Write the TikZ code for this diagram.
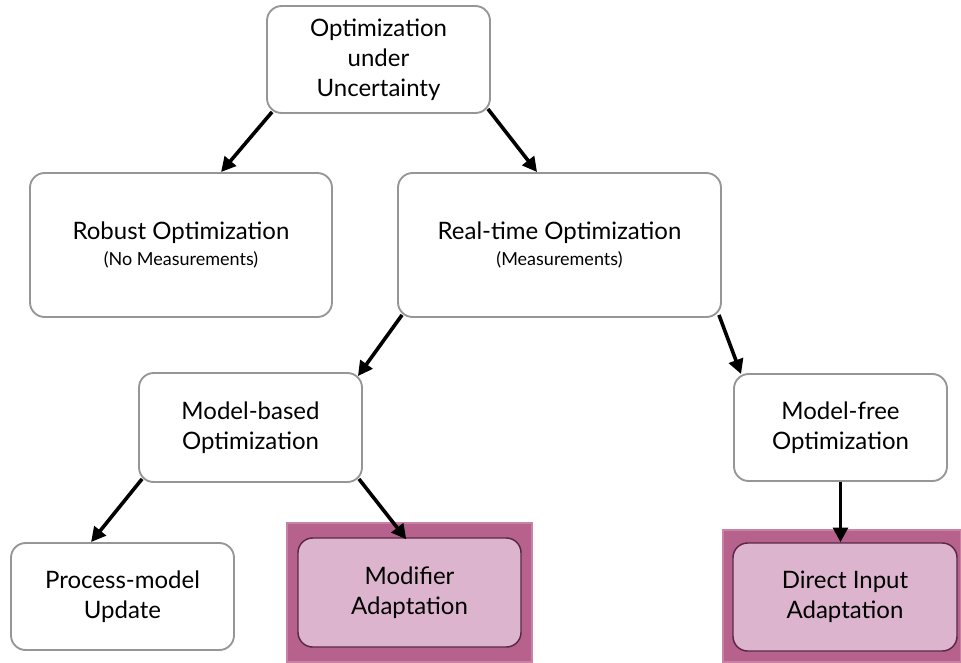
\documentclass[tikz,border=0pt]{standalone}
\usepackage{fontspec}
\setmainfont{Lato}
\usetikzlibrary{calc,arrows.meta}
\definecolor{boxgray}{RGB}{150,150,150}
\definecolor{outerpurple}{RGB}{182,98,140}
\definecolor{outeredge}{RGB}{200,130,165}
\definecolor{innerpink}{RGB}{220,180,205}
\definecolor{inneredge}{RGB}{90,40,70}
\tikzset{
  x=0.75pt, y=-0.75pt,
  box/.style={draw=boxgray, line width=1.4pt, rounded corners=11pt, fill=white, align=center, inner sep=0pt, font=\fontsize{18}{22.5}\selectfont},
  hibox/.style={draw=inneredge, line width=1.1pt, rounded corners=11pt, fill=innerpink, align=center, inner sep=0pt, font=\fontsize{18}{22.5}\selectfont},
  outerbox/.style={draw=outeredge, line width=0.8pt, fill=outerpurple, inner sep=0pt},
  arr/.style={line width=2.7pt, -{Triangle[length=11pt,width=11pt]}}
}
\newcommand{\subtxt}[1]{{\fontsize{13.5}{16}\selectfont #1}}
\begin{document}
\begin{tikzpicture}
\useasboundingbox (0,0) rectangle (961,662);
\node[box, minimum width=223*0.75pt, minimum height=107*0.75pt] (top) at (378.5,59.5) {Optimization\\under\\Uncertainty};
\node[box, minimum width=302*0.75pt, minimum height=144*0.75pt] (robust) at (181,245) {Robust Optimization\\[-3pt]\subtxt{(No Measurements)}};
\node[box, minimum width=323*0.75pt, minimum height=144*0.75pt] (rt) at (559.5,245) {Real-time Optimization\\[-3pt]\subtxt{(Measurements)}};
\node[box, minimum width=223*0.75pt, minimum height=109*0.75pt] (mb) at (250.5,427.5) {Model-based\\Optimization};
\node[box, minimum width=213*0.75pt, minimum height=107*0.75pt] (mf) at (840.5,427.5) {Model-free\\Optimization};
\node[box, minimum width=223*0.75pt, minimum height=107*0.75pt] (pm) at (122.5,596.5) {Process-model\\Update};
\node[outerbox, minimum width=245*0.75pt, minimum height=139*0.75pt] (modout) at (409.5,592.5) {};
\node[hibox, minimum width=223*0.75pt, minimum height=109*0.75pt] (modin) at (409.5,592.5) {Modifier\\Adaptation};
\node[outerbox, minimum width=238*0.75pt, minimum height=132*0.75pt] (dirout) at (842,596) {};
\node[hibox, minimum width=224*0.75pt, minimum height=108*0.75pt] (dirin) at (845,597) {Direct Input\\Adaptation};
\draw[arr] ($(top.south west)+(6,-2)$) -- ($(robust.north west)+(192,0)$);
\draw[arr] ($(top.south east)+(-3,-5)$) -- ($(rt.north west)+(140,0)$);
\draw[arr] ($(rt.south west)+(5,-3)$) -- ($(mb.north east)+(-5,4)$);
\draw[arr] ($(rt.south east)+(-3,-3)$) -- ($(mf.north west)+(8,1)$);
\draw[arr] ($(mb.south west)+(4,-4)$) -- ($(pm.north west)+(81,0)$);
\draw[arr] ($(mb.south east)+(-4,-4)$) -- ($(modin.north west)+(109,2)$);
\draw[arr] (mf.south) -- (mf.south |- dirin.north);
\end{tikzpicture}
\end{document}
